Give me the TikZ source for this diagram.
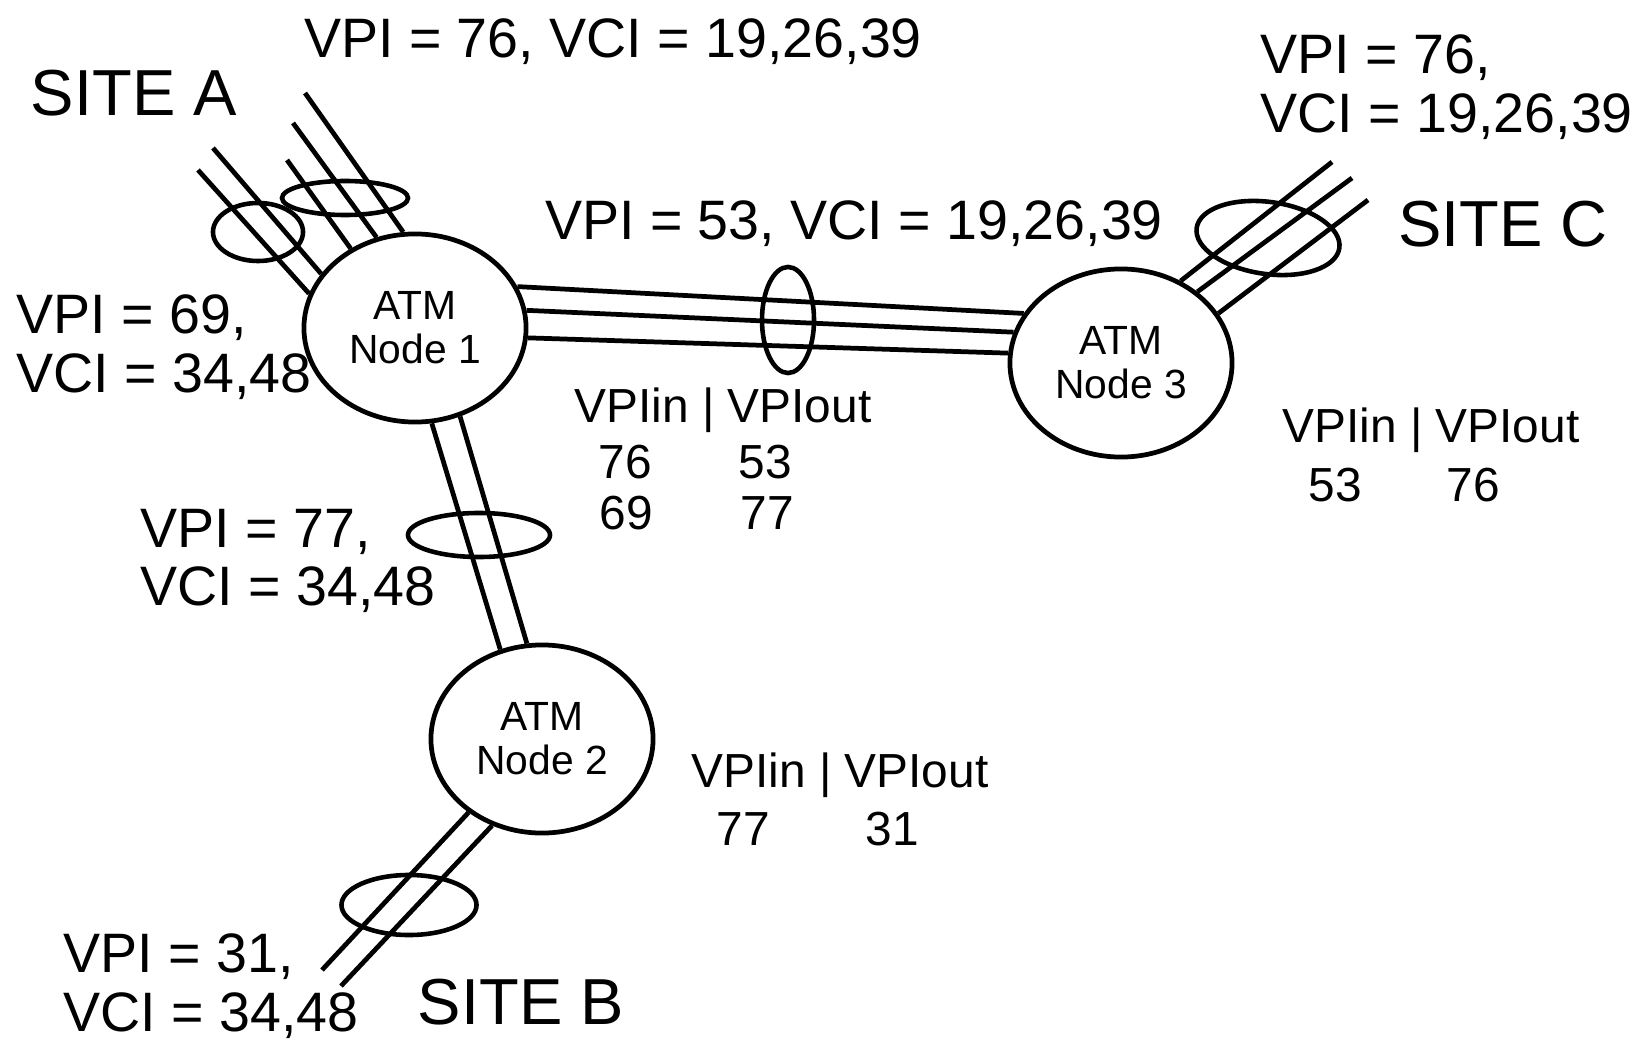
\documentclass[tikz,border=0pt]{standalone}
\usepackage{fontspec}
\setmainfont{Liberation Sans}
\usepackage{tikz}
\usetikzlibrary{positioning,shapes.geometric}

\begin{document}
\begin{tikzpicture}[x=0.01cm, y=-0.01cm,
          atm/.style={draw, ellipse, line width=1.35pt, minimum width=2.22cm, minimum height=1.88cm, inner sep=0pt, align=center, font=\fontsize{11.6}{12.6}\selectfont},
          bundle/.style={draw, ellipse, line width=1.3pt, inner sep=0pt},
          trunk/.style={line width=1.35pt},
          lbl/.style={anchor=west, align=left, inner sep=0pt, font=\fontsize{15.8}{16.6}\selectfont},
          site/.style={inner sep=0pt, font=\fontsize{18.5}{20}\selectfont},
          tbl/.style={inner sep=0pt, font=\fontsize{13.6}{15}\selectfont}]
        \fill[white] (0,0) rectangle (1646,1046);
        \useasboundingbox (0,0) rectangle (1646,1046);
        % switches
        \node[atm] (n1) at (415,328) {ATM\\Node 1};
        \node[atm] (n2) at (542,739) {ATM\\Node 2};
        \node[atm] (n3) at (1121,363) {ATM\\Node 3};
        % trunk 1 - 3
        \draw[trunk] (n1.22) -- (n3.153); \draw[trunk] (n1.9) -- (n3.164); \draw[trunk] (n1.355) -- (n3.175);
        \node[bundle, minimum width=0.52cm, minimum height=1.06cm] (vp53) at (788,320) {};
        % trunk 1 - 2
        \draw[trunk] (n1.280) -- (n2.115); \draw[trunk] (n1.297) -- (n2.99);
        \node[bundle, minimum width=1.42cm, minimum height=0.44cm] (vp77) at (479,535) {};
        % site A
        \coordinate (a1) at (198,170); \coordinate (a2) at (213,148);
        \coordinate (a3) at (287,160); \coordinate (a4) at (293,123); \coordinate (a5) at (305,93);
        \draw[trunk] (n1.162) -- (a1); \draw[trunk] (n1.150) -- (a2);
        \draw[trunk] (n1.129) -- (a3); \draw[trunk] (n1.113) -- (a4); \draw[trunk] (n1.97) -- (a5);
        \node[bundle, minimum width=0.9cm, minimum height=0.58cm] (vp69) at (258,232) {};
        \node[bundle, minimum width=1.26cm, minimum height=0.34cm] (vp76a) at (345,198) {};
        % site C
        \coordinate (c1) at (1332,162); \coordinate (c2) at (1352,178); \coordinate (c3) at (1368,200);
        \draw[trunk] (n3.54) -- (c1); \draw[trunk] (n3.43) -- (c2); \draw[trunk] (n3.27) -- (c3);
        \node[bundle, minimum width=1.44cm, minimum height=0.72cm, rotate=-8] (vp76c) at (1268,238) {};
        % site B
        \coordinate (b1) at (322,970); \coordinate (b2) at (341,986);
        \draw[trunk] (n2.225) -- (b1); \draw[trunk] (n2.240) -- (b2);
        \node[bundle, minimum width=1.35cm, minimum height=0.6cm] (vp31) at (409,905) {};
        % labels
        \node[site] (siteA) at (134,93) {SITE A};
        \node[site] (siteB) at (521,1002) {SITE B};
        \node[site] (siteC) at (1503,224) {SITE C};
        \node[lbl, anchor=center] (lA) at (613,42) {VPI = 76, VCI = 19,26,39};
        \node[lbl] (l69) at (16,347) {VPI = 69,\\VCI = 34,48};
        \node[lbl, anchor=center] (l53) at (854,224) {VPI = 53, VCI = 19,26,39};
        \node[lbl] (lC) at (1260,87) {VPI = 76,\\VCI = 19,26,39};
        \node[lbl] (l77) at (140,561) {VPI = 77,\\VCI = 34,48};
        \node[lbl] (l31) at (63,986) {VPI = 31,\\VCI = 34,48};
        % VPI tables
        \node[tbl] (t1) at (723,410) {VPIin | VPIout};
        \node[tbl] (t1a) at (625,462) {76}; \node[tbl] (t1b) at (765,462) {53};
        \node[tbl] (t1c) at (626,513) {69}; \node[tbl] (t1d) at (767,513) {77};
        \node[tbl] (t3) at (1431,430) {VPIin | VPIout};
        \node[tbl] (t3a) at (1335,485) {53}; \node[tbl] (t3b) at (1473,485) {76};
        \node[tbl] (t2) at (840,775) {VPIin | VPIout};
        \node[tbl] (t2a) at (743,829) {77}; \node[tbl] (t2b) at (892,829) {31};
      \end{tikzpicture}
\end{document}
